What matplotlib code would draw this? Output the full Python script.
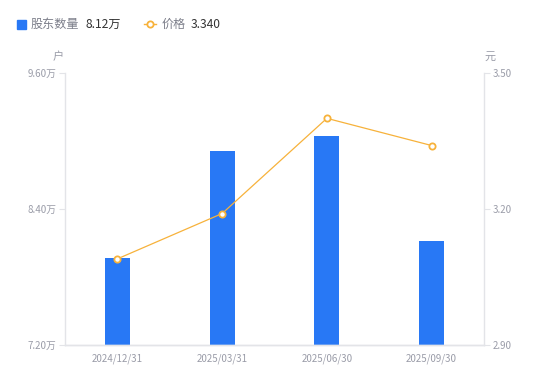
import matplotlib
matplotlib.use("Agg")
import matplotlib.pyplot as plt
import numpy as np

plt.rcParams["font.family"] = ["Noto Sans CJK SC", "DejaVu Sans"]

dates = ["2024/12/31", "2025/03/31", "2025/06/30", "2025/09/30"]
holders = [7.97, 8.91, 9.04, 8.12]   # 万户
price = [3.09, 3.19, 3.40, 3.34]     # 元

left_ticks = [7.20, 8.40, 9.60]
right_ticks = [2.90, 3.20, 3.50]

bar_color = "#2878F5"
line_color = "#F7B23B"
axis_color = "#E3E4E8"
label_color = "#9A9CA8"

fig = plt.figure(figsize=(5.5, 3.81), dpi=100)
ax = fig.add_axes([65 / 550, 36 / 381, 419 / 550, 272 / 381])
x = np.arange(len(dates))

ax.bar(x, holders, width=0.24, color=bar_color, zorder=2)
ax.set_xlim(-0.5, len(dates) - 0.5)
ax.set_ylim(left_ticks[0], left_ticks[-1])
ax.set_yticks(left_ticks)
ax.set_yticklabels([f"{v:.2f}万" for v in left_ticks])
ax.set_xticks(x)
ax.set_xticklabels(dates)

ax2 = ax.twinx()
ax2.plot(x, price, color=line_color, lw=0.9, marker="o", ms=4.5,
         mfc="white", mec=line_color, mew=1.3, zorder=3)
ax2.set_ylim(right_ticks[0], right_ticks[-1])
ax2.set_yticks(right_ticks)
ax2.set_yticklabels([f"{v:.2f}" for v in right_ticks])

for a in (ax, ax2):
    a.spines["top"].set_visible(False)
    for s in ("left", "right", "bottom"):
        a.spines[s].set_color(axis_color)
        a.spines[s].set_linewidth(1)
    a.tick_params(axis="y", length=4, color=axis_color, labelsize=7,
                  labelcolor=label_color, pad=2)
    a.tick_params(axis="x", length=0, labelsize=7, labelcolor=label_color, pad=6)
ax.spines["right"].set_visible(False)
ax2.spines["left"].set_visible(False)

# unit labels
fig.text(58 / 550, 1 - 57 / 381, "户", fontsize=8, color=label_color,
         ha="center", va="center")
fig.text(490 / 550, 1 - 57 / 381, "元", fontsize=8, color=label_color,
         ha="center", va="center")

# legend
ly = 1 - 24 / 381
fig.patches.append(plt.Rectangle((17 / 550, ly - 4.5 / 381), 9 / 550, 9 / 381,
                                 transform=fig.transFigure, color=bar_color))
fig.text(31 / 550, ly, "股东数量", fontsize=8.7, color="#7C7E8A", va="center")
fig.text(85 / 550, ly, f"{holders[-1]:.2f}万", fontsize=8.7, color="#333333", va="center")
fig.lines.append(plt.Line2D([144 / 550, 156 / 550], [ly, ly], transform=fig.transFigure,
                            color=line_color, lw=1))
fig.lines.append(plt.Line2D([150 / 550], [ly], transform=fig.transFigure, marker="o",
                            ms=4.5, mfc="white", mec=line_color, mew=1.3))
fig.text(162 / 550, ly, "价格", fontsize=8.7, color="#7C7E8A", va="center")
fig.text(191 / 550, ly, f"{price[-1]:.3f}", fontsize=8.7, color="#333333", va="center")

fig.savefig("out.png", dpi=100)
